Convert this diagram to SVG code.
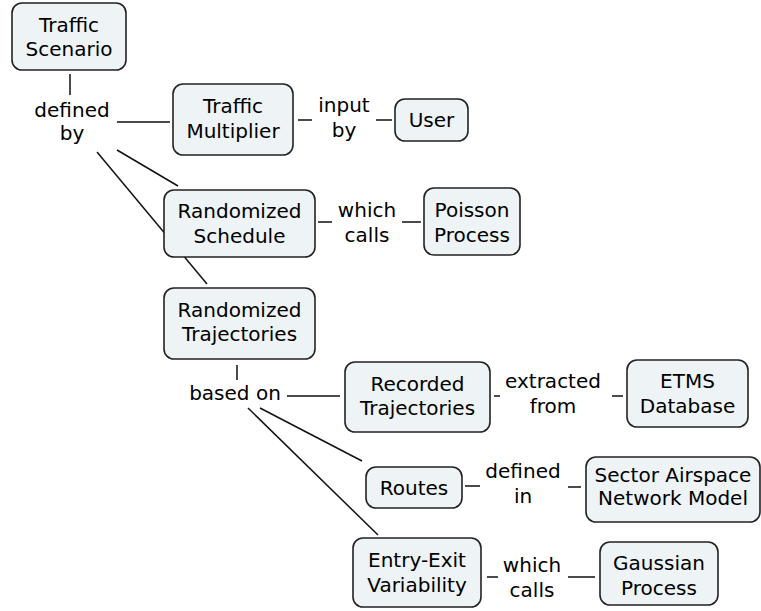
<svg xmlns="http://www.w3.org/2000/svg" width="761" height="611" viewBox="0 0 761 611">
<style>
.node rect{fill:#eef3f5;stroke:#222;stroke-width:1.6}
text{font-family:"DejaVu Sans","Liberation Sans",sans-serif;font-size:20px;fill:#000;text-anchor:middle}
.c line{stroke:#111;stroke-width:1.5}
</style>
<rect width="761" height="611" fill="#fff"/>
<g class="c" id="connectors">
<line x1="70" y1="74" x2="70" y2="95"/>
<line x1="117" y1="122" x2="170" y2="122"/>
<line x1="298" y1="120" x2="312" y2="120"/>
<line x1="376" y1="120" x2="392" y2="120"/>
<line x1="117" y1="150" x2="178" y2="186"/>
<line x1="97" y1="152" x2="207" y2="284"/>
<line x1="318" y1="222" x2="332" y2="222"/>
<line x1="402" y1="222" x2="421" y2="222"/>
<line x1="237" y1="365" x2="237" y2="380"/>
<line x1="287" y1="396" x2="340" y2="396"/>
<line x1="494" y1="396" x2="500" y2="396"/>
<line x1="612" y1="396" x2="623" y2="396"/>
<line x1="260" y1="408" x2="362" y2="461"/>
<line x1="248" y1="408" x2="378" y2="535"/>
<line x1="465" y1="486" x2="480" y2="486"/>
<line x1="568" y1="487" x2="581" y2="487"/>
<line x1="487" y1="577" x2="498" y2="577"/>
<line x1="568" y1="577" x2="595" y2="577"/>
</g>
<g id="link-labels">
<text x="72" y="117">defined</text><text x="72" y="140">by</text>
<text x="344" y="112">input</text><text x="344" y="137">by</text>
<text x="367" y="217">which</text><text x="367" y="242">calls</text>
<text x="235" y="400">based on</text>
<text x="553" y="388">extracted</text><text x="553" y="413">from</text>
<text x="523" y="478">defined</text><text x="523" y="503">in</text>
<text x="532" y="572">which</text><text x="532" y="597">calls</text>
</g>
<g class="node" id="traffic-scenario"><rect x="12" y="3" width="114" height="67" rx="10"/><text x="69" y="32">Traffic</text><text x="69" y="56">Scenario</text></g>
<g class="node" id="traffic-multiplier"><rect x="173" y="84" width="120" height="71" rx="10"/><text x="233" y="113">Traffic</text><text x="233" y="138">Multiplier</text></g>
<g class="node" id="user"><rect x="395" y="99" width="73" height="42" rx="10"/><text x="431.5" y="127">User</text></g>
<g class="node" id="randomized-schedule"><rect x="164" y="190" width="151" height="67" rx="10"/><text x="239.5" y="218">Randomized</text><text x="239.5" y="243">Schedule</text></g>
<g class="node" id="poisson-process"><rect x="424" y="188" width="96" height="67" rx="10"/><text x="472" y="217">Poisson</text><text x="472" y="242">Process</text></g>
<g class="node" id="randomized-trajectories"><rect x="164" y="288" width="151" height="71" rx="10"/><text x="239.5" y="317">Randomized</text><text x="239.5" y="341">Trajectories</text></g>
<g class="node" id="recorded-trajectories"><rect x="345" y="362" width="145" height="70" rx="10"/><text x="417.5" y="391">Recorded</text><text x="417.5" y="415">Trajectories</text></g>
<g class="node" id="etms-database"><rect x="627" y="360" width="121" height="67" rx="10"/><text x="687.5" y="388">ETMS</text><text x="687.5" y="413">Database</text></g>
<g class="node" id="routes"><rect x="366" y="467" width="96" height="41" rx="10"/><text x="414" y="495">Routes</text></g>
<g class="node" id="sector-airspace"><rect x="586" y="457" width="174" height="65" rx="10"/><text x="673" y="482">Sector Airspace</text><text x="673" y="505">Network Model</text></g>
<g class="node" id="entry-exit"><rect x="353" y="538" width="128" height="69" rx="10"/><text x="417" y="567">Entry-Exit</text><text x="417" y="592">Variability</text></g>
<g class="node" id="gaussian-process"><rect x="600" y="542" width="118" height="63" rx="10"/><text x="659" y="570">Gaussian</text><text x="659" y="595">Process</text></g>
</svg>
